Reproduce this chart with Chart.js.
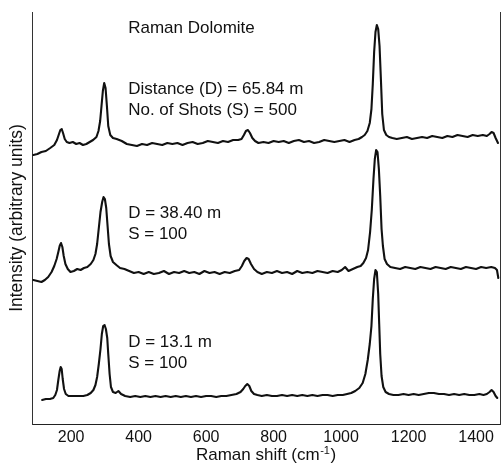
<!DOCTYPE html>
<html>
<head>
<meta charset="utf-8">
<title>Raman Dolomite</title>
<script src="https://cdn.jsdelivr.net/npm/chart.js@4/dist/chart.umd.min.js"></script>
<style>
  html, body { margin: 0; padding: 0; background: #fff; }
  #chart { display: block; }
</style>
</head>
<body>
<canvas id="chart" width="503" height="466"></canvas>
<script>
'use strict'

// x tick labels (Raman shift, cm-1)
const shiftTicks = [200, 400, 600, 800, 1000, 1200, 1400]

// top spectrum: D = 65.84 m, S = 500
const shiftTop = [88, 100, 112, 125, 138, 150, 158, 164, 168, 172, 176, 181, 187, 195, 205, 215, 225, 235, 245, 255,
  265, 275, 281, 286, 290, 294, 298, 302, 306, 310, 316, 324, 335, 350, 365, 380, 395, 410, 425, 440,
  455, 470, 485, 500, 515, 530, 545, 560, 575, 590, 605, 620, 635, 650, 665, 680, 695, 705, 712, 718,
  724, 730, 737, 745, 755, 770, 785, 800, 815, 830, 845, 860, 875, 890, 905, 920, 935, 950, 965, 980,
  995, 1010, 1025, 1040, 1052, 1062, 1070, 1078, 1085, 1090, 1094, 1098, 1102, 1106, 1110, 1114, 1118, 1122, 1127, 1134,
  1142, 1152, 1165, 1180, 1195, 1210, 1225, 1240, 1255, 1270, 1285, 1300, 1315, 1330, 1345, 1360, 1375, 1390, 1405, 1420,
  1432, 1440, 1446, 1452, 1458, 1465]
const intTop = [269, 270, 272, 273, 276, 279, 284, 290, 294, 295, 291, 285, 282, 281, 282, 280, 281, 279, 280, 282,
  284, 287, 293, 303, 318, 333, 341, 336, 318, 298, 289, 286, 285, 283, 280, 279, 278, 280, 279, 281,
  280, 279, 281, 280, 281, 279, 281, 282, 280, 281, 283, 282, 281, 283, 282, 284, 284, 285, 289, 293,
  294, 291, 286, 283, 281, 282, 281, 283, 282, 283, 281, 283, 284, 282, 283, 281, 282, 284, 283, 282,
  283, 284, 282, 284, 285, 287, 289, 293, 301, 315, 340, 372, 392, 399, 395, 378, 345, 310, 294, 289,
  287, 286, 285, 286, 287, 285, 286, 287, 286, 288, 287, 286, 288, 287, 289, 288, 287, 289, 288, 289,
  288, 290, 292, 291, 286, 281]

// middle spectrum: D = 38.40 m, S = 100
const shiftMid = [88, 100, 112, 122, 132, 142, 150, 157, 162, 166, 170, 174, 178, 183, 190, 198, 208, 218, 228, 238,
  248, 258, 266, 272, 277, 282, 287, 292, 296, 300, 304, 308, 312, 317, 324, 334, 345, 358, 372, 386,
  400, 415, 430, 445, 460, 475, 490, 505, 520, 535, 550, 565, 580, 595, 610, 625, 640, 655, 670, 685,
  698, 706, 713, 720, 726, 733, 742, 752, 765, 780, 795, 810, 825, 840, 855, 870, 885, 900, 915, 930,
  945, 960, 975, 990, 1002, 1012, 1022, 1035, 1048, 1058, 1066, 1074, 1080, 1086, 1091, 1096, 1100, 1104, 1108, 1112,
  1116, 1120, 1124, 1129, 1136, 1146, 1160, 1175, 1190, 1205, 1220, 1235, 1250, 1265, 1280, 1295, 1310, 1325, 1340, 1355,
  1370, 1385, 1400, 1415, 1430, 1445, 1456, 1462, 1466]
const intMid = [144, 143, 142, 144, 147, 152, 158, 165, 172, 178, 181, 177, 168, 160, 155, 152, 153, 155, 154, 156,
  157, 160, 164, 170, 180, 196, 212, 222, 227, 225, 216, 198, 180, 168, 162, 159, 156, 155, 153, 151,
  152, 150, 152, 150, 151, 153, 150, 152, 151, 153, 151, 152, 150, 153, 151, 152, 150, 152, 151, 153,
  154, 158, 163, 166, 165, 160, 155, 152, 150, 152, 151, 153, 151, 152, 150, 153, 151, 152, 151, 153,
  152, 151, 153, 152, 154, 157, 153, 155, 157, 158, 161, 166, 174, 192, 214, 245, 265, 274, 272, 255,
  228, 195, 178, 165, 160, 157, 156, 155, 157, 156, 155, 157, 156, 155, 157, 156, 155, 157, 156, 155,
  157, 156, 155, 157, 156, 157, 156, 154, 146]

// bottom spectrum: D = 13.1 m, S = 100
const shiftBot = [114, 125, 137, 147, 153, 158, 162, 166, 169, 172, 175, 179, 184, 192, 205, 220, 236, 248, 258, 266,
  272, 277, 282, 287, 291, 295, 299, 303, 307, 310, 314, 318, 324, 332, 340, 348, 360, 375, 390, 405,
  420, 435, 450, 465, 480, 495, 510, 525, 540, 555, 570, 585, 600, 615, 630, 645, 660, 675, 690, 702,
  710, 716, 722, 728, 734, 742, 752, 765, 780, 795, 810, 825, 840, 855, 870, 885, 900, 915, 930, 945,
  960, 975, 990, 1005, 1018, 1030, 1042, 1054, 1064, 1072, 1079, 1085, 1090, 1094, 1098, 1102, 1106, 1110, 1113, 1116,
  1120, 1125, 1132, 1142, 1155, 1170, 1185, 1200, 1215, 1230, 1245, 1260, 1275, 1290, 1305, 1320, 1335, 1350, 1365, 1380,
  1395, 1410, 1422, 1432, 1440, 1446, 1452, 1458, 1463]
const intBot = [24, 25, 25, 26, 29, 34, 44, 53, 57, 55, 45, 35, 30, 28, 28, 28, 28, 29, 31, 34,
  39, 47, 60, 75, 90, 98, 99, 95, 86, 70, 50, 37, 32, 31, 33, 30, 28, 27, 28, 27,
  28, 27, 28, 27, 28, 27, 28, 27, 28, 27, 28, 27, 28, 28, 27, 28, 28, 29, 30, 32,
  35, 38, 40, 38, 33, 30, 29, 28, 29, 28, 28, 29, 28, 29, 28, 29, 28, 29, 28, 29,
  29, 28, 29, 29, 30, 31, 33, 36, 41, 50, 64, 80, 98, 125, 145, 154, 152, 130, 100, 70,
  48, 37, 32, 30, 29, 29, 30, 29, 30, 29, 30, 31, 31, 30, 30, 29, 30, 29, 30, 29,
  29, 30, 29, 30, 32, 34, 32, 28, 26]

// text written inside the plot, and where it goes (shift, intensity at the text baseline)
const noteTexts = ['Raman Dolomite', 'Distance (D) = 65.84 m', 'No. of Shots (S) = 500',
  'D = 38.40 m', 'S = 100', 'D = 13.1 m', 'S = 100']
const noteAt = [[369, 391], [369, 330], [369, 309], [369, 206], [369, 185], [369, 77], [369, 56]]

const xTitle = ['Raman shift (cm', '-1', ')']

const FONT = "'Liberation Sans', Arial, Helvetica, sans-serif"

const toPoints = (xs, ys) => xs.map((x, i) => ({ x: x, y: ys[i] }))

const lineSet = (label, xs, ys) => ({
  label: label,
  data: toPoints(xs, ys),
  borderColor: '#111',
  borderWidth: 2.1,
  pointRadius: 0,
  tension: 0,
  borderJoinStyle: 'round',
  borderCapStyle: 'round'
})

// notes inside the plot + x axis title with a superscript
const notesPlugin = {
  id: 'notes',
  afterDatasetsDraw(chart) {
    const { ctx, scales, chartArea } = chart
    ctx.save()
    ctx.fillStyle = '#111'
    ctx.font = '17px ' + FONT
    ctx.textAlign = 'left'
    ctx.textBaseline = 'alphabetic'
    noteTexts.forEach((t, i) => {
      ctx.fillText(t, scales.x.getPixelForValue(noteAt[i][0]), scales.y.getPixelForValue(noteAt[i][1]))
    })

    // axis title: "Raman shift (cm-1)"
    const big = '17px ' + FONT
    const small = '11px ' + FONT
    ctx.font = big
    const w0 = ctx.measureText(xTitle[0]).width
    const w2 = ctx.measureText(xTitle[2]).width
    ctx.font = small
    const w1 = ctx.measureText(xTitle[1]).width
    const total = w0 + w1 + 1 + w2
    let tx = (chartArea.left + chartArea.right) / 2 - total / 2
    const base = chart.height - 6
    ctx.font = big
    ctx.fillText(xTitle[0], tx, base)
    tx += w0 + 0.5
    ctx.font = small
    ctx.fillText(xTitle[1], tx, base - 6)
    tx += w1 + 0.5
    ctx.font = big
    ctx.fillText(xTitle[2], tx, base)
    ctx.restore()
  }
}

const ctx = document.getElementById('chart')

const myChart = new Chart(ctx, {
  type: 'line',
  data: {
    datasets: [
      lineSet('D = 65.84 m', shiftTop, intTop),
      lineSet('D = 38.40 m', shiftMid, intMid),
      lineSet('D = 13.1 m', shiftBot, intBot)
    ]
  },
  options: {
    responsive: false,
    animation: false,
    layout: { padding: { top: 12, left: 0, right: 0, bottom: 0 } },
    plugins: {
      legend: { display: false },
      tooltip: { enabled: false }
    },
    scales: {
      x: {
        type: 'linear',
        min: 84,
        max: 1471,
        afterBuildTicks: (scale) => {
          scale.ticks = shiftTicks.map((v) => ({ value: v }))
        },
        afterFit: (scale) => { scale.height = 42 },
        grid: { display: false },
        border: { display: true, color: '#222', width: 1 },
        ticks: {
          color: '#111',
          padding: -4,
          maxRotation: 0,
          font: { family: FONT, size: 16 },
          callback: (v) => String(v)
        },
        title: { display: false }
      },
      y: {
        type: 'linear',
        position: 'left',
        min: 0,
        max: 412,
        afterFit: (scale) => { scale.width = 32 },
        grid: { display: false },
        border: { display: true, color: '#333', width: 1 },
        ticks: { display: false },
        title: {
          display: true,
          text: 'Intensity (arbitrary units)',
          color: '#111',
          padding: { top: 7, bottom: 0 },
          font: { family: FONT, size: 17.5 }
        }
      },
      y2: {
        type: 'linear',
        position: 'right',
        min: 0,
        max: 412,
        afterFit: (scale) => { scale.width = 3 },
        grid: { display: false },
        border: { display: true, color: '#333', width: 1 },
        ticks: { display: false }
      }
    }
  },
  plugins: [notesPlugin]
})
</script>
</body>
</html>
